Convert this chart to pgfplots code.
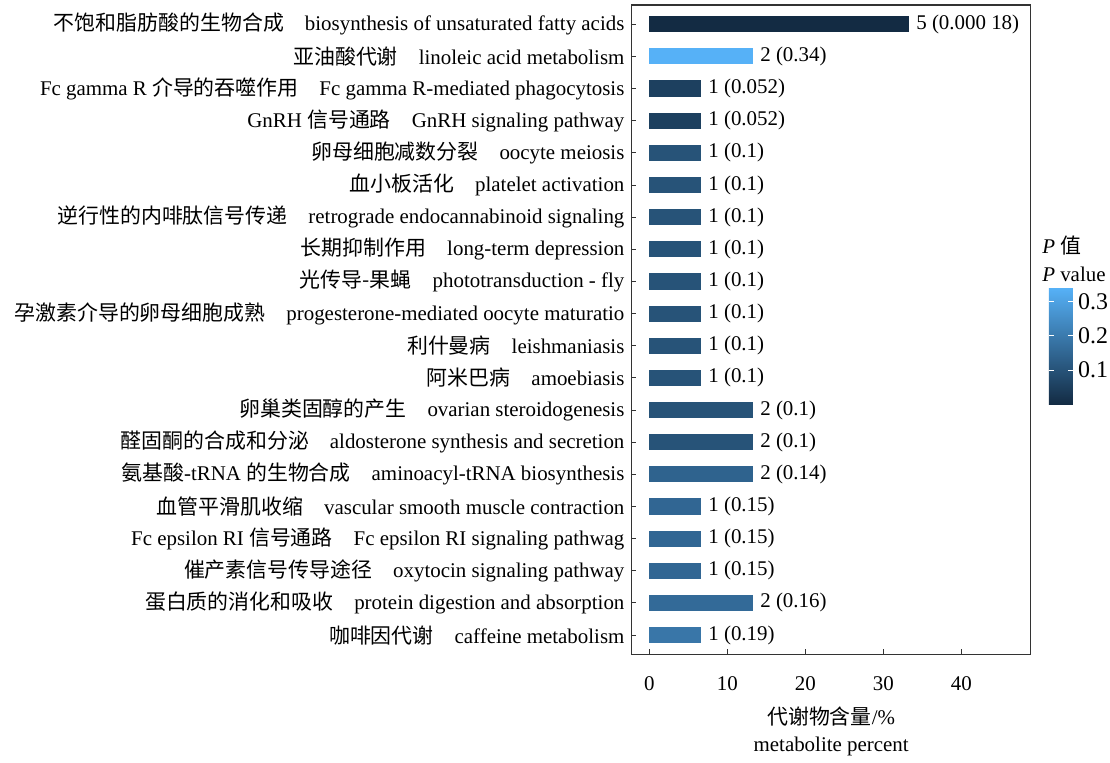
\documentclass[border=0pt]{standalone}
\usepackage{pgfplots}
\pgfplotsset{compat=1.18}
\usepackage{pgfplotstable}
\usepackage{fontspec}
\setmainfont{Liberation Serif}
\newfontfamily\cjk{Noto Sans CJK SC}
\pgfplotsset{colormap={pv}{rgb255=(19,43,67) rgb255=(86,177,247)}}
\pgfplotstableread[col sep=semicolon]{
idx;pct;p;lab
0;33.33;0.00018;5 (0.000 18)
1;13.33;0.34;2 (0.34)
2;6.67;0.052;1 (0.052)
3;6.67;0.052;1 (0.052)
4;6.67;0.1;1 (0.1)
5;6.67;0.1;1 (0.1)
6;6.67;0.1;1 (0.1)
7;6.67;0.1;1 (0.1)
8;6.67;0.1;1 (0.1)
9;6.67;0.1;1 (0.1)
10;6.67;0.1;1 (0.1)
11;6.67;0.1;1 (0.1)
12;13.33;0.1;2 (0.1)
13;13.33;0.1;2 (0.1)
14;13.33;0.14;2 (0.14)
15;6.67;0.15;1 (0.15)
16;6.67;0.15;1 (0.15)
17;6.67;0.15;1 (0.15)
18;13.33;0.16;2 (0.16)
19;6.67;0.19;1 (0.19)
}\data
\begin{document}
\begin{tikzpicture}[font=\fontsize{10.5}{12.6}\selectfont]
\begin{axis}[name=main,
  scale only axis, width=200.5pt, height=326pt,
  xbar, bar width=8.1pt, bar shift=0pt,
  xmin=-2.3, xmax=48.9, ymin=-0.6, ymax=19.6, y dir=reverse,
  xtick={0,10,20,30,40}, ytick={0,...,19},
  xtick pos=bottom, ytick pos=left,
  tick align=inside, major tick length=2.5pt,
  tick style={black!80, line width=0.5pt},
  axis line style={black!80, line width=0.6pt},
  /pgf/number format/assume math mode=true,
  xticklabel style={yshift=-7.5pt},
  xlabel={{\cjk 代谢物含量}/\%\\[1pt]metabolite percent},
  xlabel style={align=center, yshift=-1.5pt},
  yticklabels={
    {{\cjk 不饱和脂肪酸的生物合成}\quad biosynthesis of unsaturated fatty acids},
    {{\cjk 亚油酸代谢}\quad linoleic acid metabolism},
    {Fc gamma R {\cjk 介导的吞噬作用}\quad Fc gamma R-mediated phagocytosis},
    {GnRH {\cjk 信号通路}\quad GnRH signaling pathway},
    {{\cjk 卵母细胞减数分裂}\quad oocyte meiosis},
    {{\cjk 血小板活化}\quad platelet activation},
    {{\cjk 逆行性的内啡肽信号传递}\quad retrograde endocannabinoid signaling},
    {{\cjk 长期抑制作用}\quad long-term depression},
    {{\cjk 光传导-果蝇}\quad phototransduction - fly},
    {{\cjk 孕激素介导的卵母细胞成熟}\quad progesterone-mediated oocyte maturatio},
    {{\cjk 利什曼病}\quad leishmaniasis},
    {{\cjk 阿米巴病}\quad amoebiasis},
    {{\cjk 卵巢类固醇的产生}\quad ovarian steroidogenesis},
    {{\cjk 醛固酮的合成和分泌}\quad aldosterone synthesis and secretion},
    {{\cjk 氨基酸}-tRNA {\cjk 的生物合成}\quad aminoacyl-tRNA biosynthesis},
    {{\cjk 血管平滑肌收缩}\quad vascular smooth muscle contraction},
    {Fc epsilon RI {\cjk 信号通路}\quad Fc epsilon RI signaling pathwag},
    {{\cjk 催产素信号传导途径}\quad oxytocin signaling pathway},
    {{\cjk 蛋白质的消化和吸收}\quad protein digestion and absorption},
    {{\cjk 咖啡因代谢}\quad caffeine metabolism}},
  colormap name=pv,
  point meta min=0.00018, point meta max=0.34,
  colorbar,
  colorbar style={
    at={(parent axis.north east)}, anchor=north west,
    xshift=0.5pt, yshift=-142pt,
    scale only axis, width=12pt, height=58.5pt,
    axis line style={draw=none},
    ytick={0.1,0.2,0.3}, ytick pos=both,
    tick align=inside, major tick length=2.5pt,
    tick style={white, line width=0.6pt},
    yticklabel style={font=\fontsize{12}{14}\selectfont, inner sep=1pt, xshift=1.5pt},
    /pgf/number format/assume math mode=true,
    /pgf/number format/fixed,
    yticklabel pos=right,
    title={\textit{P} {\cjk 值}\\[1.5pt]\textit{P} value},
    title style={anchor=south west, at={(0,1)}, xshift=-5.5pt, yshift=-5pt, align=left, inner sep=2pt},
  },
]
\pgfplotsinvokeforeach{0,...,19}{%
  \pgfplotstablegetelem{#1}{p}\of\data
  \pgfplotscolormapaccess[0.00018:0.34]{\pgfplotsretval}{pv}%
  \edef\tmp{\noexpand\definecolor{bc#1}{rgb}{\pgfmathresult}}\tmp
  \pgfplotstablegetelem{#1}{pct}\of\data
  \edef\tmp{\noexpand\addplot[draw=none, fill=bc#1] coordinates {(\pgfplotsretval,#1)};}\tmp
}
\addplot[draw=none, fill=none, nodes near coords, point meta=explicit symbolic,
  nodes near coords style={anchor=west, black, inner sep=3.3pt}]
  table[x=pct, y=idx, meta=lab] {\data};
\end{axis}
\path (main.south west) ++(-317pt,-51.5pt) rectangle ++(555pt,380pt);
\end{tikzpicture}
\end{document}
